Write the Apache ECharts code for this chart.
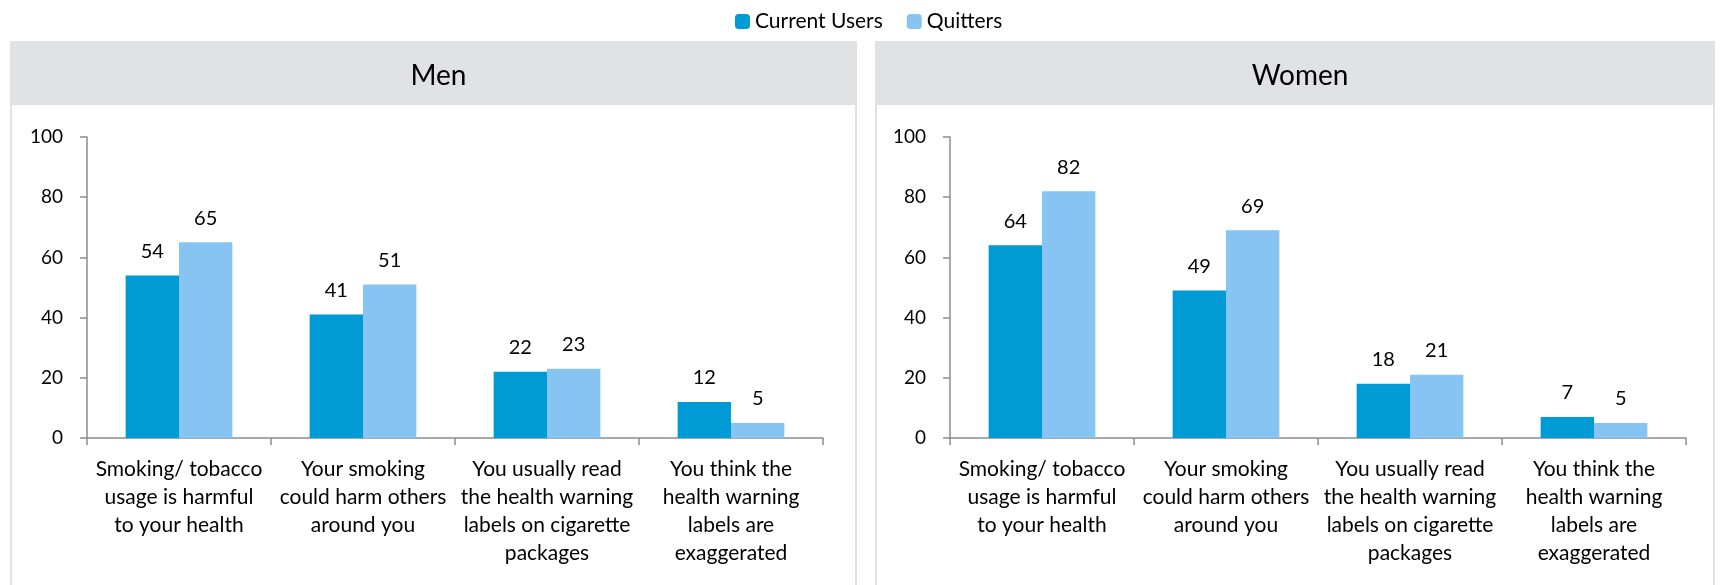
<!DOCTYPE html>
<html><head><meta charset="utf-8">
<script src="https://cdn.jsdelivr.net/npm/echarts@6/dist/echarts.min.js"></script>
<style>html,body{margin:0;padding:0;background:#fff}#c{width:1723px;height:585px}</style>
</head><body><div id="c"></div>
<script>
const categories = [
  "Smoking/ tobacco\nusage is harmful\nto your health",
  "Your smoking\ncould harm others\naround you",
  "You usually read\nthe health warning\nlabels on cigarette\npackages",
  "You think the\nhealth warning\nlabels are\nexaggerated"
];
const panels = ["Men", "Women"];
const seriesNames = ["Current Users", "Quitters"];
const menCurrent = [54, 41, 22, 12];
const menQuitters = [65, 51, 23, 5];
const womenCurrent = [64, 49, 18, 7];
const womenQuitters = [82, 69, 21, 5];
const yTicks = [0, 20, 40, 60, 80, 100];

const FONT = 'Lato';
const C1 = '#009BD5', C2 = '#88C4F1';
const chart = echarts.init(document.getElementById('c'));

function xAxis(i){
  return {type:'category', gridIndex:i, data:categories,
    axisLine:{lineStyle:{color:'#8C8C8C', width:1.5}},
    axisTick:{show:true, length:7, lineStyle:{color:'#8C8C8C', width:1.5}},
    axisLabel:{color:'#000', fontFamily:FONT, fontSize:21, lineHeight:28, margin:17, interval:0}};
}
function yAxis(i){
  return {type:'value', gridIndex:i, min:yTicks[0], max:yTicks[yTicks.length-1], interval:20,
    axisLine:{show:true, lineStyle:{color:'#8C8C8C', width:1.5}},
    axisTick:{show:true, length:7, lineStyle:{color:'#8C8C8C', width:1.5}},
    splitLine:{show:false},
    axisLabel:{color:'#000', fontFamily:FONT, fontSize:19, margin:24}};
}
function bar(name, data, i, color){
  return {type:'bar', name, data, xAxisIndex:i, yAxisIndex:i, itemStyle:{color},
    barGap:'0%', barCategoryGap:'42%',
    label:{show:true, position:'top', distance:14, color:'#000', fontFamily:FONT, fontSize:20}};
}
const panelX = [[11,856],[876,1714]];
const graphic = [];
panelX.forEach(([a,b])=>{
  graphic.push({type:'rect', z:-10, shape:{x:a, y:42, width:b-a, height:560}, style:{fill:'#fff', stroke:'#D9D9D9', lineWidth:1.5}});
  graphic.push({type:'rect', z:-9, shape:{x:a, y:42, width:b-a, height:63}, style:{fill:'#E1E2E4'}});
});

chart.setOption({
  animation:false,
  graphic,
  title: panels.map((t,i)=>({text:t, left:(panelX[i][0]+panelX[i][1])/2, textAlign:'center', top:57,
    textStyle:{fontFamily:FONT, fontSize:28, fontWeight:'normal', color:'#000'}})),
  legend:{data:seriesNames, left:730, top:6, itemWidth:15, itemHeight:15, itemGap:24,
    textStyle:{fontFamily:FONT, fontSize:21, color:'#000'}},
  grid:[{left:87, width:736, top:137, height:301},{left:950, width:736, top:137, height:301}],
  xAxis:[xAxis(0), xAxis(1)],
  yAxis:[yAxis(0), yAxis(1)],
  series:[
    bar(seriesNames[0], menCurrent, 0, C1),
    bar(seriesNames[1], menQuitters, 0, C2),
    bar(seriesNames[0], womenCurrent, 1, C1),
    bar(seriesNames[1], womenQuitters, 1, C2)
  ]
});
</script></body></html>
